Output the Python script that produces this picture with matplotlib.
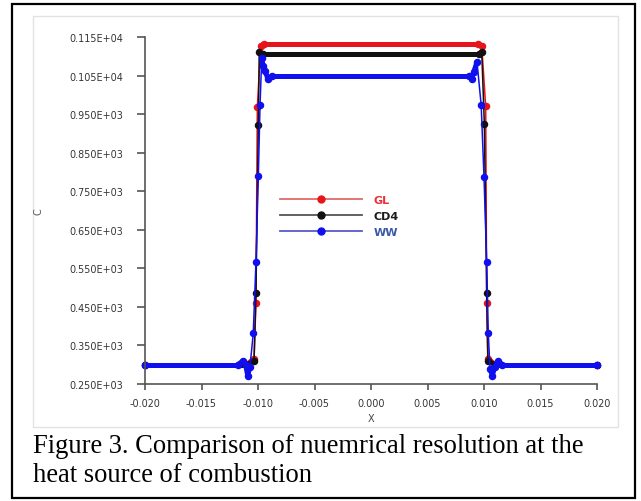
import matplotlib
matplotlib.use("Agg")
import matplotlib.pyplot as plt
import numpy as np
from matplotlib.collections import LineCollection
from matplotlib.lines import Line2D
from matplotlib.patches import Rectangle

gl_x = [-0.0200, -0.0110, -0.01035, -0.01018, -0.01006, -0.00976, -0.0095,
        0.0095, 0.00980, 0.01015, 0.01024, 0.01033, 0.0110, 0.0200]
gl_y = [300, 300, 316, 461, 968, 1127, 1131,
        1131, 1127, 970, 461, 316, 300, 300]

cd4_x = [-0.0200, -0.0110, -0.01035, -0.01018, -0.00997, -0.00989, -0.0096,
         0.0096, 0.00980, 0.01003, 0.01024, 0.01035, 0.0110, 0.0200]
cd4_y = [300, 300, 309, 487, 922, 1112, 1106,
         1106, 1112, 925, 487, 309, 300, 300]

ww_x = [-0.0200, -0.0118, -0.01133, -0.01110, -0.01091, -0.01071, -0.01042,
        -0.01018, -0.00997, -0.00982, -0.00967, -0.00956, -0.00938, -0.00912,
        -0.00876, 0.0087, 0.00890, 0.00910, 0.00938, 0.00975, 0.01000,
        0.01024, 0.01038, 0.01053, 0.01074, 0.01095, 0.01127, 0.0116, 0.0200]
ww_y = [300, 300, 310, 300, 272, 295, 381,
        566, 789, 974, 1096, 1076, 1063, 1041,
        1050, 1050, 1041, 1060, 1085, 974, 787,
        566, 381, 290, 272, 295, 310, 300, 300]

labels = ["GL", "CD4", "WW"]
line_colors = ["#e8141c", "#111111", "#1010ee"]
label_colors = ["#e8323a", "#1a1a1a", "#3a5aa6"]
legend_line_colors = ["#e06a6a", "#555555", "#5a5ac8"]

yticks = [250, 350, 450, 550, 650, 750, 850, 950, 1050, 1150]
ytick_labels = ["0.250E+03", "0.350E+03", "0.450E+03", "0.550E+03", "0.650E+03",
                "0.750E+03", "0.850E+03", "0.950E+03", "0.105E+04", "0.115E+04"]
xticks = [-0.020, -0.015, -0.010, -0.005, 0.000, 0.005, 0.010, 0.015, 0.020]
xtick_labels = ["-0.020", "-0.015", "-0.010", "-0.005", "0.000",
                "0.005", "0.010", "0.015", "0.020"]

caption_1 = "Figure 3. Comparison of nuemrical resolution at the"
caption_2 = "heat source of combustion"

W, H = 641, 502
fig = plt.figure(figsize=(W / 100, H / 100), dpi=100)

# outer frame and faint frame of the pasted plot image
fig.patches.append(Rectangle((12 / W, 1 - 499 / H), 623 / W, 494 / H,
                             transform=fig.transFigure, fill=False,
                             edgecolor="black", lw=1.6))
fig.patches.append(Rectangle((33 / W, 1 - 428 / H), 585 / W, 411 / H,
                             transform=fig.transFigure, fill=False,
                             edgecolor="#e2e2e2", lw=1.0))

ax = fig.add_axes([145 / W, 117 / H, 452 / W, 347 / H])

data = [(gl_x, gl_y), (cd4_x, cd4_y), (ww_x, ww_y)]
for (xs, ys), col in zip(data, line_colors):
    xs = np.asarray(xs)
    ys = np.asarray(ys, dtype=float)
    # flat stretches are packed with markers -> draw them as a thick band
    segs = [[(xs[i], ys[i]), (xs[i + 1], ys[i + 1])]
            for i in range(len(xs) - 1) if abs(ys[i + 1] - ys[i]) < 40]
    lc = LineCollection(segs, colors=col, linewidths=3.6, capstyle="round",
                        clip_on=False)
    ax.add_collection(lc)
    ax.plot(xs, ys, color=col, lw=1.1, marker="o", ms=4.4, mec=col, mfc=col,
            clip_on=False)

handles = [Line2D([], [], color=lc_, lw=1.3, marker="o", ms=5, mfc=c, mec=c)
           for lc_, c in zip(legend_line_colors, line_colors)]
leg = ax.legend(handles, labels, loc="upper left",
                bbox_to_anchor=((280 - 145) / 452, (385 - 196) / 347),
                frameon=False, handlelength=7.4, handletextpad=1.0,
                labelspacing=0.55, borderpad=0, borderaxespad=0,
                labelcolor=label_colors, prop={"weight": "bold", "size": 8})

ax.set_xlim(-0.02, 0.02)
ax.set_ylim(250, 1150)
ax.set_xticks(xticks)
ax.set_xticklabels(xtick_labels)
ax.set_yticks(yticks)
ax.set_yticklabels(ytick_labels)
ax.tick_params(axis="y", direction="out", length=6, width=1.2, color="#555555",
               labelsize=6.9, labelcolor="#333333", pad=10)
ax.tick_params(axis="x", direction="out", length=4, width=1.2, color="#555555",
               labelsize=6.9, labelcolor="#333333", pad=6)
for s in ["top", "right"]:
    ax.spines[s].set_visible(False)
for s in ["left", "bottom"]:
    ax.spines[s].set_color("#555555")
    ax.spines[s].set_linewidth(1.2)

ax.set_xlabel("X", fontsize=7, color="#444444", labelpad=4)
fig.text(38 / W, 1 - 212 / H, "C", fontsize=7, color="#555555",
         rotation=90, ha="center", va="center")

fig.text(33 / W, 1 - 453 / H, caption_1, family="Liberation Serif",
         fontsize=19.1, ha="left", va="baseline")
fig.text(33 / W, 1 - 482 / H, caption_2, family="Liberation Serif",
         fontsize=19.1, ha="left", va="baseline")

fig.savefig("out.png", dpi=100)
